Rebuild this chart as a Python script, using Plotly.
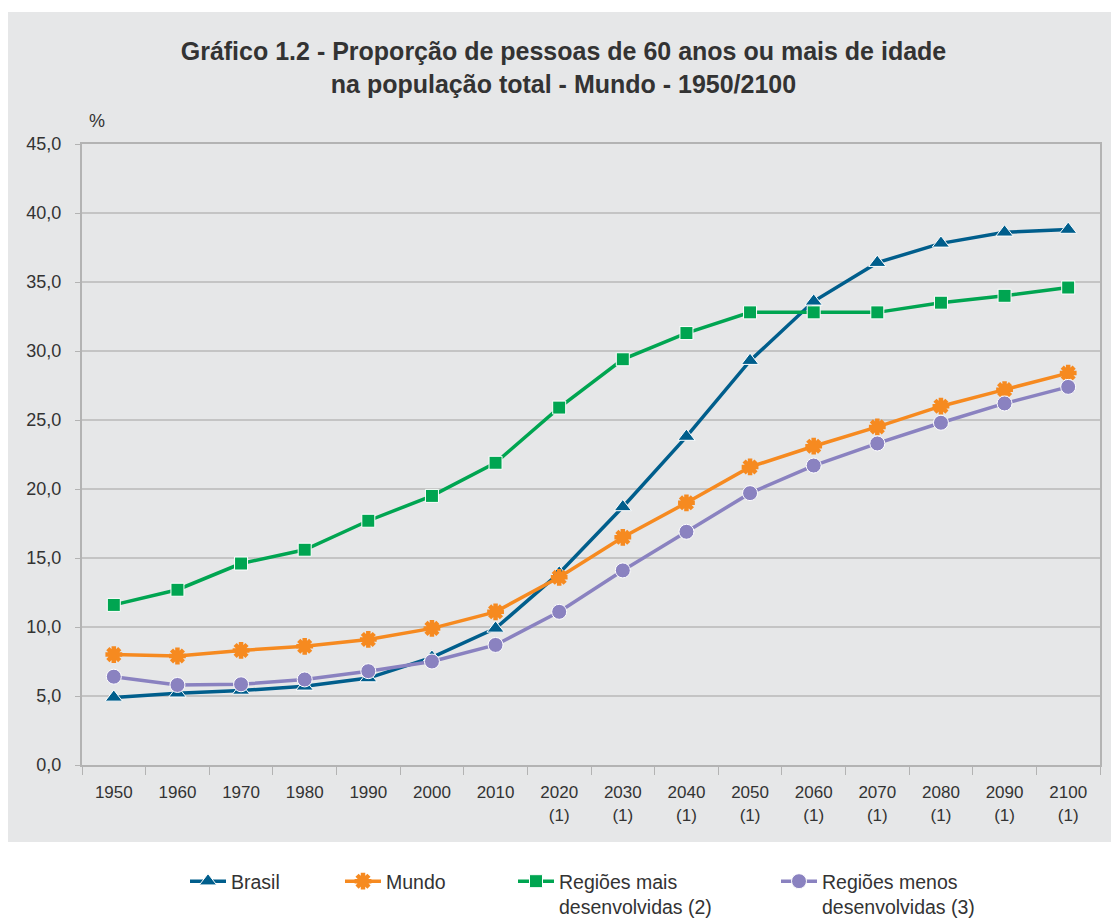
import plotly.graph_objects as go

anos = ["1950", "1960", "1970", "1980", "1990", "2000", "2010",
        "2020<br>(1)", "2030<br>(1)", "2040<br>(1)", "2050<br>(1)", "2060<br>(1)",
        "2070<br>(1)", "2080<br>(1)", "2090<br>(1)", "2100<br>(1)"]

brasil = [4.9, 5.2, 5.4, 5.7, 6.3, 7.8, 9.9, 13.9, 18.7, 23.8, 29.3, 33.6, 36.4, 37.8, 38.6, 38.8]
mundo = [8.0, 7.9, 8.3, 8.6, 9.1, 9.9, 11.1, 13.6, 16.5, 19.0, 21.6, 23.1, 24.5, 26.0, 27.2, 28.4]
mais_desenv = [11.6, 12.7, 14.6, 15.6, 17.7, 19.5, 21.9, 25.9, 29.4, 31.3, 32.8, 32.8, 32.8, 33.5, 34.0, 34.6]
menos_desenv = [6.4, 5.8, 5.85, 6.2, 6.8, 7.5, 8.7, 11.1, 14.1, 16.9, 19.7, 21.7, 23.3, 24.8, 26.2, 27.4]

# figura deslocada 8px pela margem do <body>
W, H = 1111, 911
l, r, t, b = 74, 19, 136, 154
pw, ph = W - l - r, H - t - b

# (nome, valores, cor, símbolo, tamanho, legenda, x da legenda em px)
series = [
    ("Brasil", brasil, "#005e8c", "triangle-up", 15, "legend", 177),
    ("Mundo", mundo, "#f68a20", "asterisk-open", 14, "legend2", 332),
    ("Regiões mais<br>desenvolvidas (2)", mais_desenv, "#00a551", "square", 13, "legend3", 505),
    ("Regiões menos<br>desenvolvidas (3)", menos_desenv, "#8a82c0", "circle", 15, "legend4", 768),
]

fig = go.Figure()
legendas = {}
for nome, vals, cor, simbolo, tam, leg, lx in series:
    if simbolo == "asterisk-open":
        marker = dict(symbol=simbolo, size=tam, color=cor, line=dict(color=cor, width=4.5))
    else:
        marker = dict(symbol=simbolo, size=tam, color=cor, line=dict(color="white", width=1))
    fig.add_trace(go.Scatter(
        x=anos, y=vals, name=nome, mode="lines+markers",
        line=dict(color=cor, width=3.5), marker=marker, legend=leg,
    ))
    legendas[leg] = dict(orientation="h", xref="container", yref="container",
                         x=lx / W, xanchor="left", y=1 - 854 / H, yanchor="top",
                         valign="top", itemwidth=36,
                         font=dict(size=19.5, color="#333333"), bgcolor="rgba(0,0,0,0)")

# fundo cinza do quadro
fig.add_shape(type="rect", xref="paper", yref="paper", layer="below",
              x0=(-3 - l) / pw, x1=(W - l) / pw,
              y0=(H - b - 834) / ph, y1=(H - b - 4) / ph,
              fillcolor="#e6e7e8", line_width=0)

fig.add_annotation(text="%", xref="paper", yref="paper", x=(79 - l) / pw, y=(H - b - 101) / ph,
                   showarrow=False, font=dict(size=18, color="#333333"))

fig.update_layout(
    width=W, height=H,
    margin=dict(l=l, r=r, t=t, b=b),
    paper_bgcolor="white", plot_bgcolor="white",
    separators=",.",
    font=dict(family="Liberation Sans, Arial, sans-serif", color="#333333"),
    title=dict(text="<b>Gráfico 1.2 - Proporção de pessoas de 60 anos ou mais de idade<br>"
                    "na população total - Mundo - 1950/2100</b>",
               x=0.5, xanchor="center", y=1 - 52 / H, yanchor="middle",
               font=dict(size=25, color="#333333")),
    showlegend=True,
    **legendas,
)
fig.update_xaxes(type="category", range=[-0.5, len(anos) - 0.5], showgrid=False,
                 showline=True, linecolor="#b3b3b3",
                 linewidth=2, mirror=True, ticks="outside", tickson="boundaries",
                 ticklen=8, tickcolor="#b3b3b3", ticklabelstandoff=11,
                 tickfont=dict(size=17, color="#333333"))
fig.update_yaxes(range=[0, 45], dtick=5, tickformat=".1f", showgrid=True,
                 gridcolor="#c4c4c4", gridwidth=1.5, showline=True, linecolor="#b3b3b3",
                 linewidth=2, mirror=True, ticks="outside", ticklen=5, tickcolor="#b3b3b3",
                 ticklabelstandoff=10, zeroline=False, tickfont=dict(size=18, color="#333333"))

fig.write_html("out.html")
